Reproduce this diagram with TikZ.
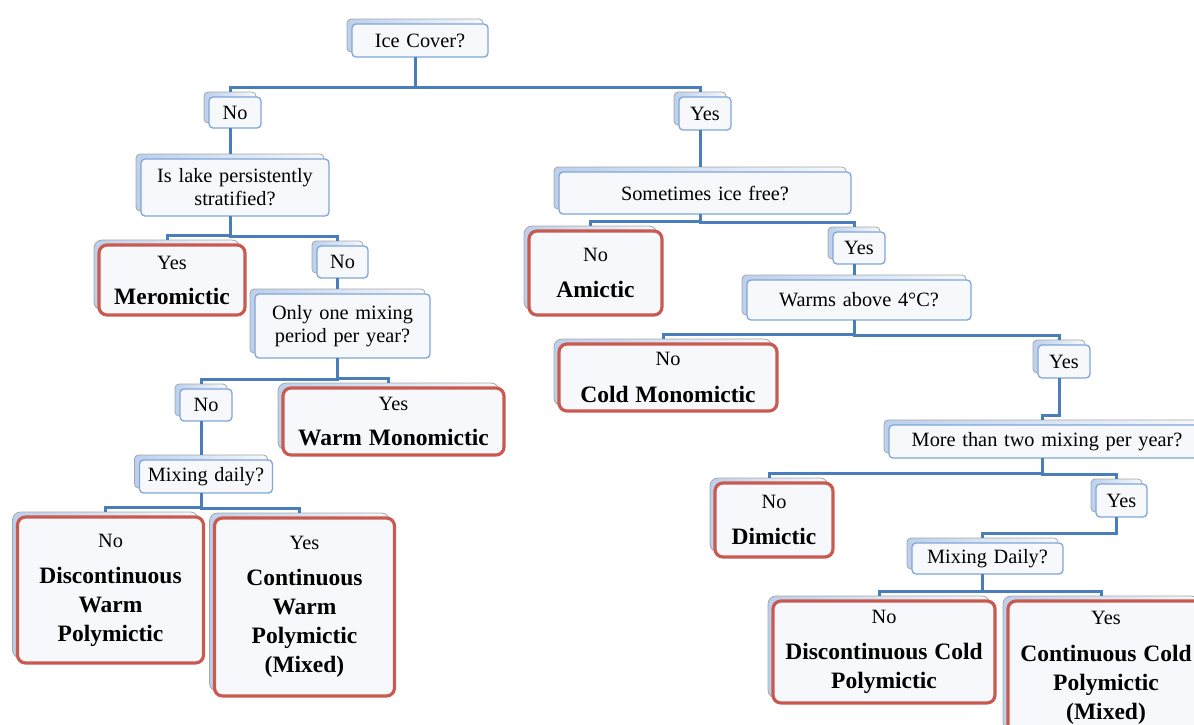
\documentclass[tikz,border=0pt]{standalone}
\usepackage{fontspec}
\setmainfont{Liberation Serif}
\usetikzlibrary{positioning,shadows}

\definecolor{linkblue}{HTML}{4A7EBB}
\definecolor{boxline}{HTML}{7FA6D9}
\definecolor{boxfill}{HTML}{F6F8FC}
\definecolor{backblue}{HTML}{BCD0EC}
\definecolor{backgray}{HTML}{A6A6A6}
\definecolor{leafred}{HTML}{C85A50}

\newcommand{\qfont}{\fontsize{20.3}{23}\selectfont}
\newcommand{\lfont}{\fontsize{23.5}{29}\selectfont\bfseries}

\begin{document}
\begin{tikzpicture}[semithick,
    back/.style={copy shadow={shadow xshift=-5pt,shadow yshift=5pt,draw=backgray,line width=0.8pt,left color=backblue,right color=boxfill}},
    qbox/.style={draw=boxline,line width=1.3pt,fill=boxfill,rounded corners=4pt,inner sep=2pt,outer sep=0pt,align=center,font=\qfont,back},
    leaf/.style={draw=leafred,line width=3.2pt,fill=boxfill,rounded corners=8pt,inner sep=2pt,outer sep=0pt,align=center,font=\qfont,back},
    tree/.style={linkblue,line width=3pt,to path={([xshift=-5pt]\tikztostart.south) |- ([xshift=-5pt,yshift=10pt]\tikztotarget.north) -- ([xshift=-5pt,yshift=5pt]\tikztotarget.north)}}]
        \useasboundingbox (0,0) rectangle (1194pt,-724pt);
        \clip (0,0) rectangle (1194pt,-724pt);

        \node[qbox, text width=132pt, minimum height=33pt] (A) at (420pt,-40.5pt)          {Ice Cover?};
        \node[qbox, text width=48pt,  minimum height=31pt] (B) [below=40pt of A, xshift=-185pt] {No};
        \node[qbox, text width=184pt, minimum height=57pt] (C) [below=31pt of B]              {Is lake persistently\\stratified?};
        \node[leaf, text width=142pt, minimum height=70pt] (D) [below=29pt of C, xshift=-63pt]  {Yes\\[6pt]\lfont Meromictic\par};
        \node[qbox, text width=47pt,  minimum height=32pt] (E) [below=30pt of C, xshift=107.5pt] {No};
        \node[qbox, text width=171pt, minimum height=64pt] (F) [below=16pt of E]              {Only one mixing\\period per year?};
        \node[qbox, text width=48pt,  minimum height=32pt] (G) [below=31pt of F, xshift=-136.5pt] {No};
        \node[leaf, text width=217pt, minimum height=67pt] (H) [below=30pt of F, xshift=51pt]   {Yes\\[6pt]\lfont Warm Monomictic\par};
        \node[qbox, text width=129pt, minimum height=33pt] (I) [below=39pt of G]              {Mixing daily?};
        \node[leaf, text width=182pt, minimum height=146pt] (J) [below=24pt of I, xshift=-95.5pt] {No\\[7pt]\lfont Discontinuous\\Warm\\Polymictic\par};
        \node[leaf, text width=176pt, minimum height=178pt] (K) [below=25pt of I, xshift=98.5pt] {Yes\\[7pt]\lfont Continuous\\Warm\\Polymictic\\(Mixed)\par};

        \node[qbox, text width=48pt,  minimum height=33pt] (L) [below=40pt of A, xshift=285pt] {Yes};
        \node[qbox, text width=288pt, minimum height=42pt] (M) [below=42pt of L]              {Sometimes ice free?};
        \node[leaf, text width=129pt, minimum height=84pt] (N) [below=17pt of M, xshift=-109.5pt] {No\\[7pt]\lfont Amictic\par};
        \node[qbox, text width=48pt,  minimum height=32pt] (O) [below=18pt of M, xshift=154pt] {Yes};
        \node[qbox, text width=220pt, minimum height=40pt] (P) [below=16pt of O]              {Warms above 4°C?};
        \node[leaf, text width=214pt, minimum height=67pt] (Q) [below=24pt of P, xshift=-191pt] {No\\[8pt]\lfont Cold Monomictic\par};
        \node[qbox, text width=48pt,  minimum height=33pt] (R) [below=25pt of P, xshift=205pt] {Yes};
        \node[qbox, text width=312pt, minimum height=33pt] (S) [below=47pt of R, xshift=-17pt] {More than two mixing per year?};
        \node[leaf, text width=114pt, minimum height=74pt] (T) [below=25pt of S, xshift=-273pt] {No\\[7pt]\lfont Dimictic\par};
        \node[qbox, text width=47pt,  minimum height=33pt] (U) [below=26pt of S, xshift=74.5pt] {Yes};
        \node[qbox, text width=147pt, minimum height=31pt] (V) [below=26pt of U, xshift=-134pt] {Mixing Daily?};
        \node[leaf, text width=218pt, minimum height=102pt] (W) [below=27pt of V, xshift=-103.5pt] {No\\[7pt]\lfont Discontinuous Cold\\Polymictic\par};
        \node[leaf, text width=192pt, minimum height=134pt] (X) [below=27pt of V, xshift=118.5pt] {Yes\\[8pt]\lfont Continuous Cold\\Polymictic\\(Mixed)\par};

        \path[tree]
        (A) edge (B)
            edge (L)
        (B) edge (C)
        (C) edge (D)
            edge (E)
        (E) edge (F)
        (F) edge (G)
            edge (H)
        (G) edge (I)
        (I) edge (J)
            edge (K)
        (L) edge (M)
        (M) edge (N)
            edge (O)
        (O) edge (P)
        (P) edge (Q)
            edge (R)
        (R) edge (S)
        (S) edge (T)
            edge (U)
        (U) edge (V)
        (V) edge (W)
            edge (X);
    \end{tikzpicture}
\end{document}
